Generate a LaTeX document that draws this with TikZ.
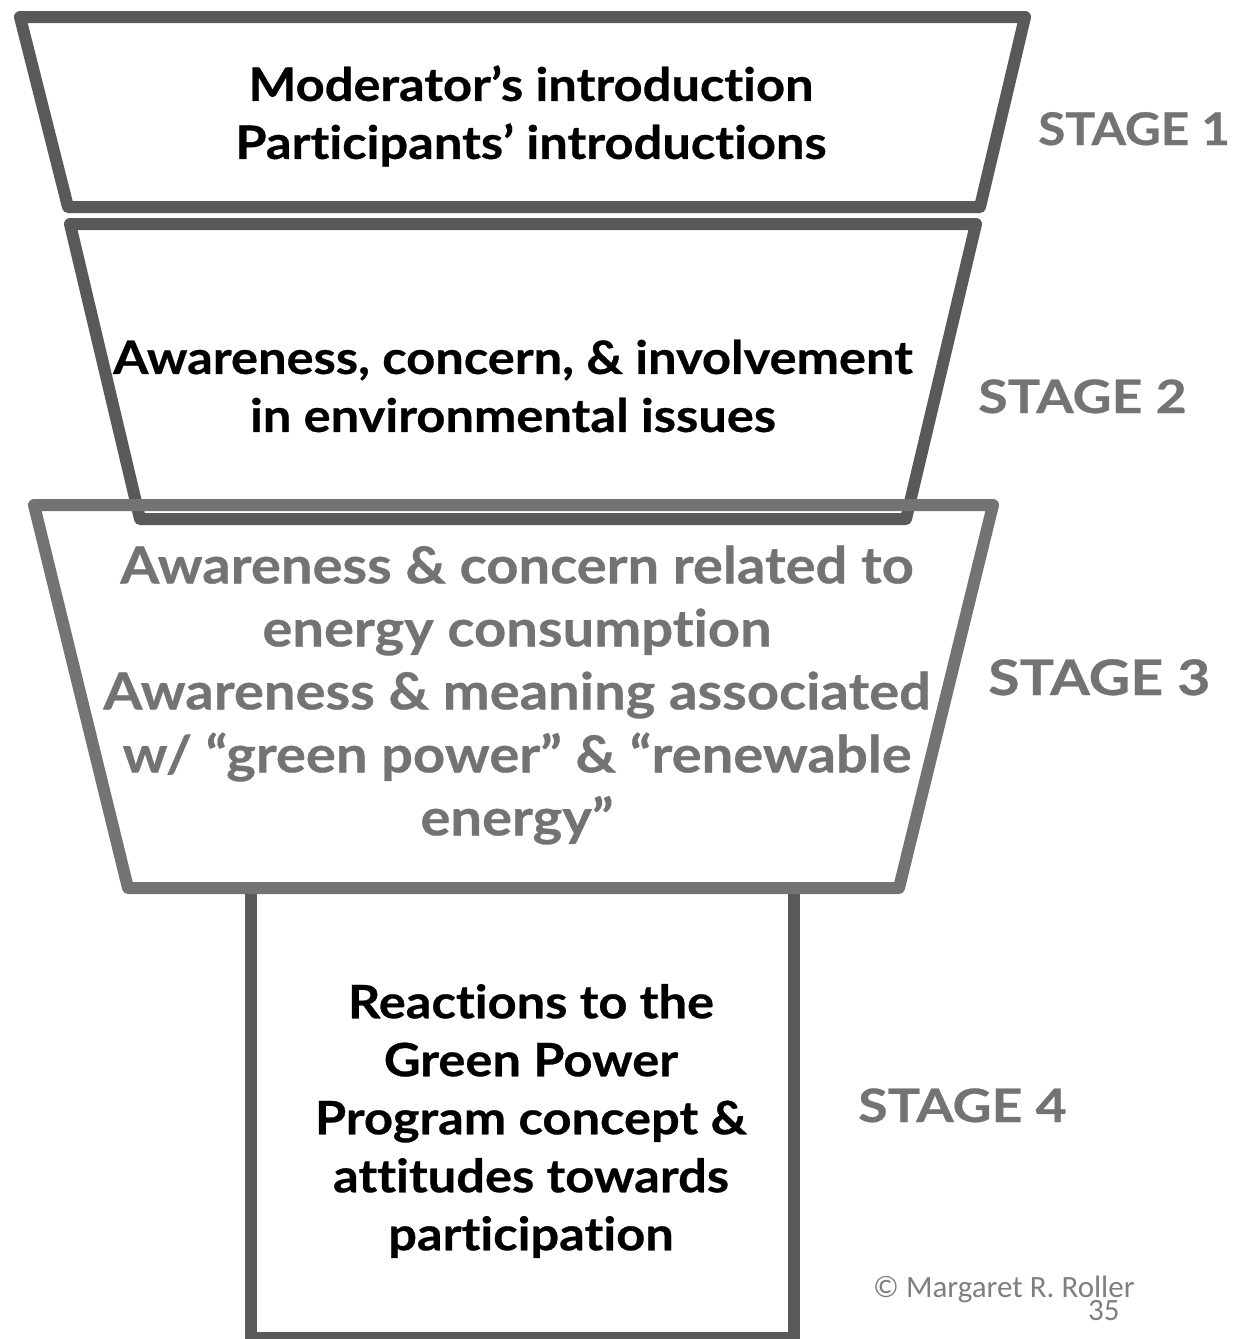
\documentclass[tikz,border=0pt]{standalone}
\usepackage{fontspec}
\setmainfont[Ligatures=NoCommon, FakeStretch=1.1, FakeBold=0.6]{Lato}
\newfontfamily\labelfont[Ligatures=NoCommon, FakeStretch=1.17, FakeBold=0.6]{Lato}
\newfontfamily\notefont{Carlito}
\definecolor{darkline}{RGB}{89,89,89}
\definecolor{midgray}{RGB}{115,115,115}
\definecolor{notegray}{RGB}{127,127,127}
\tikzset{
  funnel/.style={line width=12pt, line join=round, draw=darkline},
  funnellight/.style={line width=12pt, line join=round, draw=midgray},
  stagetext/.style={font=\bfseries\fontsize{46}{58}\selectfont, align=center, inner sep=0pt},
  stagelabel/.style={font=\labelfont\bfseries\fontsize{46}{54}\selectfont, text=midgray, inner sep=0pt, anchor=base west},
}
\begin{document}
\begin{tikzpicture}[x=1pt,y=-1pt]
\useasboundingbox (0,0) rectangle (1237,1339);

% bottom box (stage 4)
\draw[funnel] (251,888) -- (251,1338) -- (794,1338) -- (794,888);

% stage 2 funnel section
\draw[funnel] (70,224) -- (976,224) -- (906,519) -- (140,519) -- cycle;

% stage 1 funnel section
\draw[funnel] (20,17) -- (1025,17) -- (980,207) -- (68,207) -- cycle;

% stage 3 funnel section
\draw[funnellight] (34,505) -- (993,505) -- (899,888) -- (128,888) -- cycle;

% texts inside the funnel
\node[stagetext] (s1text) at (531,116) {Moderator’s introduction\\Participants’ introductions};
\node[stagetext] (s2text) at (513,386) {Awareness, concern, \& involvement\\in environmental issues};
\node[stagetext, text=midgray, font=\bfseries\fontsize{51}{63}\selectfont] (s3text) at (517,695)
  {Awareness \& concern related to\\energy consumption\\Awareness \& meaning associated\\w/ “green power” \& “renewable\\energy”};
\node[stagetext] (s4text) at (531,1121) {Reactions to the\\Green Power\\Program concept \&\\attitudes towards\\participation};

% stage labels
\node[stagelabel, font=\bfseries\fontsize{45}{54}\selectfont] (stage1) at (1038,145) {STAGE 1};
\node[stagelabel] (stage2) at (978,413) {STAGE 2};
\node[stagelabel, font=\labelfont\bfseries\fontsize{49}{58}\selectfont] (stage3) at (988,695) {STAGE 3};
\node[stagelabel] (stage4) at (858,1122) {STAGE 4};

% footer
\node[font=\notefont\fontsize{31}{36}\selectfont, text=notegray, inner sep=0pt, anchor=base west] (credit) at (873,1297) {© Margaret R. Roller};
\node[font=\notefont\fontsize{31}{36}\selectfont, text=notegray, inner sep=0pt, anchor=base west] (pagenum) at (1088,1320) {35};
\end{tikzpicture}
\end{document}
